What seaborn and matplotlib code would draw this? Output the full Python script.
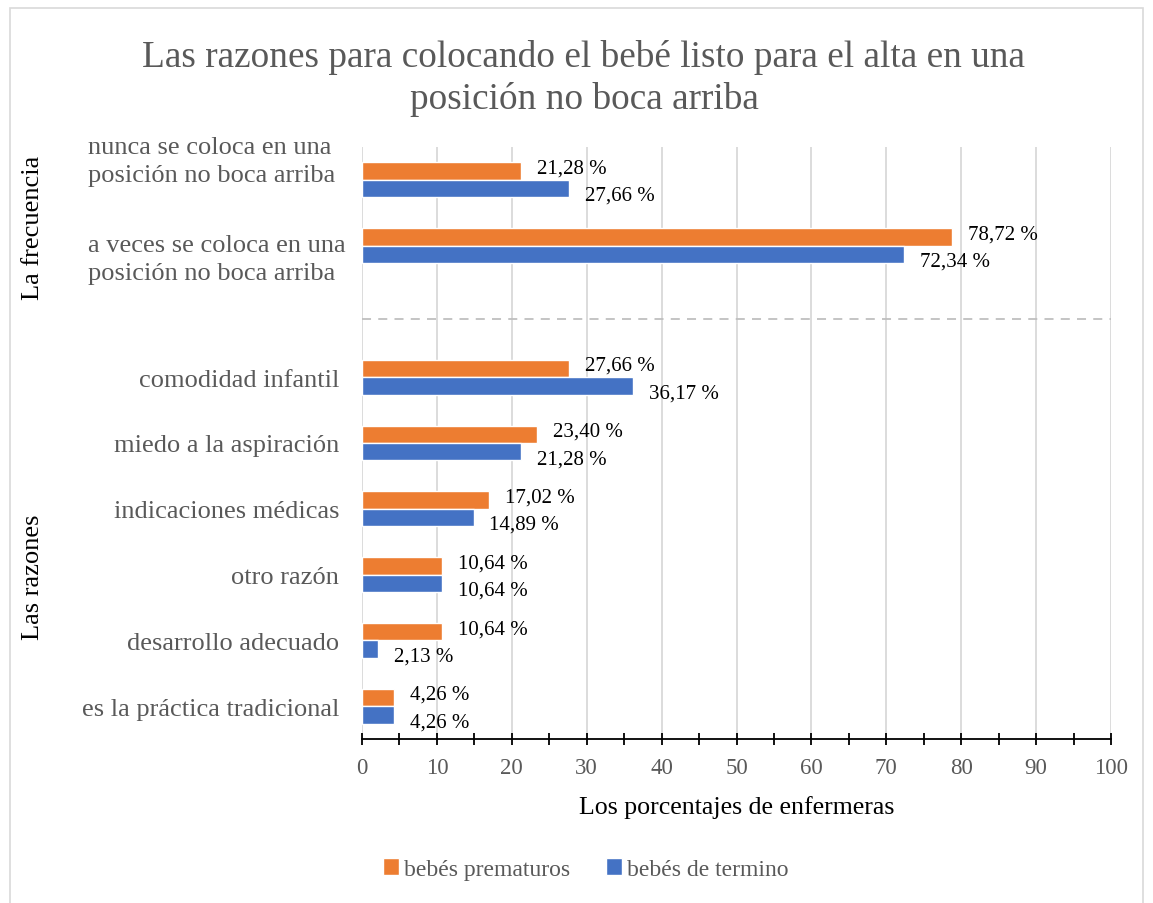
import matplotlib
matplotlib.use("Agg")
import matplotlib.pyplot as plt
import matplotlib.transforms as mtransforms
from matplotlib.patches import Rectangle
from matplotlib.ticker import MultipleLocator
import seaborn as sns
import pandas as pd

# ---- data ----
categories = [
    "nunca se coloca en una\nposición no boca arriba",
    "a veces se coloca en una\nposición no boca arriba",
    "comodidad infantil",
    "miedo a la aspiración",
    "indicaciones médicas",
    "otro razón",
    "desarrollo adecuado",
    "es la práctica tradicional",
]
premature = [21.28, 78.72, 27.66, 23.40, 17.02, 10.64, 10.64, 4.26]
term = [27.66, 72.34, 36.17, 21.28, 14.89, 10.64, 2.13, 4.26]
series_names = ["bebés prematuros", "bebés de termino"]
colors = ["#ED7D31", "#4472C4"]
spacer = " "
order = categories[:2] + [spacer] + categories[2:]

df = pd.DataFrame({
    "cat": categories * 2,
    "val": premature + term,
    "serie": [series_names[0]] * len(categories) + [series_names[1]] * len(categories),
})

sns.set_theme(style="white")
plt.rcParams["font.family"] = ["Liberation Serif", "DejaVu Serif"]

fig = plt.figure(figsize=(11.53, 9.04), dpi=100)
ax_left, ax_w = 362 / 1153, 749 / 1153
ax = fig.add_axes([ax_left, 0.1814, ax_w, 0.6549])

sns.barplot(data=df, x="val", y="cat", hue="serie", order=order,
            hue_order=series_names, palette=colors, orient="h",
            width=0.53, ax=ax, legend=True, saturation=1)

gray = "#595959"
ax.set_xlim(0, 100)
ax.set_ylim(8.5, -0.5)
ax.xaxis.set_major_locator(MultipleLocator(10))
ax.xaxis.set_minor_locator(MultipleLocator(5))
ax.grid(axis="x", which="major", color="#D9D9D9", lw=1.3)
ax.set_axisbelow(True)
for s in ["left", "right", "top"]:
    ax.spines[s].set_visible(False)
ax.spines["bottom"].set_color("black")
ax.spines["bottom"].set_linewidth(1.3)
ax.tick_params(axis="x", which="both", direction="inout", length=8.5, width=1.3,
               color="black", bottom=True, labelsize=16.5, labelcolor=gray, pad=9)

# category labels (the two wrapped frequency labels sit slightly off their bar pairs)
label_pos = [-0.363, 1.126, 3, 4, 5, 6, 7, 8]
ax.set_yticks(label_pos, categories)
ax.tick_params(axis="y", length=0, labelsize=19, labelcolor=gray, pad=16.5)
left_x = (88 - 362 + 16.5 * 100 / 72) / 749
for lbl in ax.get_yticklabels():
    if "\n" in lbl.get_text():
        lbl.set_multialignment("left")
        lbl.set_horizontalalignment("left")
        lbl.set_x(left_x)
        lbl.set_linespacing(1.3)

ax.set_xlabel("Los porcentajes de enfermeras", fontsize=18.6, color="black", labelpad=12)
ax.set_ylabel("")

# data labels
for cont, dy in zip(ax.containers, [2.2, -5]):
    for bar in cont:
        w = bar.get_width()
        if pd.isna(w) or w == 0:
            continue
        txt = f"{w:.2f}".replace(".", ",") + " %"
        ax.annotate(txt, (w, bar.get_y() + bar.get_height() / 2),
                    xytext=(11.5, dy), textcoords="offset points",
                    va="center", ha="left", fontsize=15, color="black")

# dashed separator
trans = mtransforms.blended_transform_factory(ax.transAxes, ax.transData)
ax.plot([0, 1.0], [2.114, 2.114], transform=trans, ls=(0, (5, 4)), color="#BFBFBF",
        lw=1.3, clip_on=False)

# legend
h, l = ax.get_legend_handles_labels()
ax.legend_.remove()
fig.legend(h, l, loc="center", bbox_to_anchor=(0.508, 0.0376), ncol=2, frameon=False,
           fontsize=17, handlelength=0.68, handleheight=0.68, handletextpad=0.2,
           columnspacing=1.5, labelcolor=gray)

# title (two lines)
fig.text(0.5065, 1 - 67 / 904, "Las razones para colocando el bebé listo para el alta en una",
         ha="center", va="baseline", fontsize=26.8, color=gray)
fig.text(0.5065, 1 - 109 / 904, "posición no boca arriba",
         ha="center", va="baseline", fontsize=26.8, color=gray)

# group labels
fig.text(0.0286, 0.748, "La frecuencia", rotation=90, ha="center", va="center", fontsize=19, color="black")
fig.text(0.0286, 0.362, "Las razones", rotation=90, ha="center", va="center", fontsize=19, color="black")

# outer border
fig.patches.append(Rectangle((0.009, -0.01), 0.982, 1.0, transform=fig.transFigure,
                             fill=False, edgecolor="#D9D9D9", lw=1.2))

fig.savefig("out.png", dpi=100)
